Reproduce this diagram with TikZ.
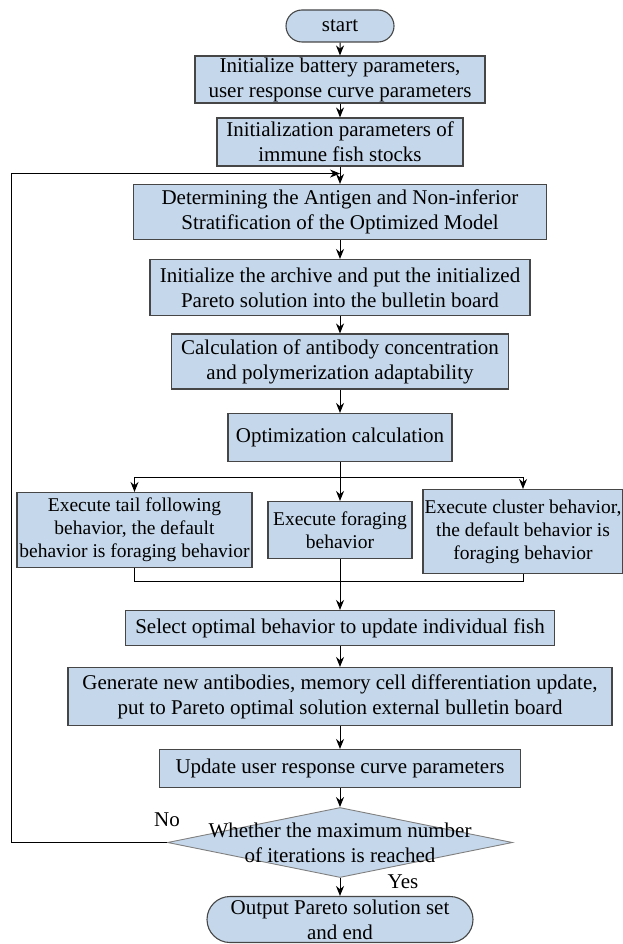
\documentclass[tikz,border=0pt]{standalone}
\usepackage{fontspec}
\setmainfont{Liberation Serif}
\usetikzlibrary{shapes.geometric, shapes.misc, arrows.meta}
\definecolor{boxblue}{RGB}{197,215,234}
\definecolor{edgegray}{RGB}{70,70,70}
\tikzstyle{startstop} = [rounded rectangle, inner sep=0pt, align=center, draw=edgegray, line width=1.1pt, fill=boxblue]
\tikzstyle{process} = [rectangle, inner sep=0pt, align=center, draw=edgegray, line width=1.1pt, fill=boxblue]
\tikzstyle{sidebox} = [process, font=\fontsize{19.5}{23}\selectfont]
\tikzstyle{decision} = [diamond, inner sep=0pt, draw=gray, line width=0.9pt, fill=boxblue]
\tikzstyle{arrow} = [line width=1pt, -{Stealth[length=10pt,width=8pt]}]
\tikzstyle{line} = [line width=1pt]

\begin{document}
\begin{tikzpicture}[node distance=70pt, font=\fontsize{21}{25}\selectfont]
\useasboundingbox (0,0) rectangle (623pt,-944pt);

% Nodes
\node (start) [startstop, minimum width=108pt, minimum height=32pt] at (340pt,-26pt) {start};
\node (battery) [process, minimum width=290pt, minimum height=47pt, below of=start, yshift=16.5pt] {Initialize battery parameters,\\ user response curve parameters};
\node (fishinit) [process, minimum width=246pt, minimum height=48pt, below of=battery, yshift=7.5pt] {Initialization parameters of\\ immune fish stocks};
\node (antigen) [process, minimum width=413pt, minimum height=55pt, below of=fishinit] {Determining the Antigen and Non-inferior\\ Stratification of the Optimized Model};
\node (archive) [process, minimum width=380pt, minimum height=56pt, below of=antigen, yshift=-5.5pt] {Initialize the archive and put the initialized\\ Pareto solution into the bulletin board};
\node (antibody) [process, minimum width=337pt, minimum height=55pt, below of=archive, yshift=-4pt] {Calculation of antibody concentration\\ and polymerization adaptability};
\node (optim) [process, minimum width=224pt, minimum height=48pt, below of=antibody, yshift=-6pt] {Optimization calculation};
\node (forage) [sidebox, minimum width=144pt, minimum height=57pt, below of=optim, yshift=-22.5pt] {Execute foraging\\ behavior};
\node (tail) [sidebox, minimum width=235pt, minimum height=75pt, left of=forage, xshift=-135.5pt] {Execute tail following\\ behavior, the default\\ behavior is foraging behavior};
\node (cluster) [sidebox, minimum width=200pt, minimum height=84pt, right of=forage, xshift=113pt, yshift=-1.5pt] {Execute cluster behavior,\\ the default behavior is\\ foraging behavior};
\node (select) [process, minimum width=429pt, minimum height=35pt, below of=forage, yshift=-28pt] {Select optimal behavior to update individual fish};
\node (generate) [process, minimum width=544pt, minimum height=58pt, below of=select, yshift=1.5pt] {Generate new antibodies, memory cell differentiation update,\\ put to Pareto optimal solution external bulletin board};
\node (update) [process, minimum width=361pt, minimum height=38pt, below of=generate, yshift=-2pt] {Update user response curve parameters};
\node (check) [decision, minimum width=345pt, minimum height=70pt, below of=update, yshift=-4pt, label={[name=checktext, align=center]center:{Whether the maximum number\\ of iterations is reached}}] {};
\node (stop) [startstop, minimum width=266pt, minimum height=46pt, below of=check, yshift=-7pt] {Output Pareto solution set\\ and end};
\node (no) at ([yshift=23pt]check.west) {No};
\node (yes) at ([xshift=63pt, yshift=-4pt]check.south) {Yes};

% Helper points
\coordinate (join) at ([yshift=-7pt]fishinit.south);
\coordinate (split) at ([yshift=-15pt]optim.south);
\coordinate (merge) at ([yshift=-22pt]forage.south);

% Arrows
\draw [arrow] (start) -- (battery);
\draw [arrow] (battery) -- (fishinit);
\draw [arrow] (fishinit) -- (antigen);
\draw [arrow] (antigen) -- (archive);
\draw [arrow] (archive) -- (antibody);
\draw [arrow] (antibody) -- (optim);
\draw [arrow] (optim) -- (forage);
\draw [arrow] (split) -| (tail.north);
\draw [arrow] (split) -| (cluster.north);
\draw [line] (tail.south) |- (merge) -| (cluster.south);
\draw [arrow] (forage) -- (select);
\draw [arrow] (select) -- (generate);
\draw [arrow] (generate) -- (update);
\draw [arrow] (update) -- (check);
\draw [arrow] (check) -- (stop);
\draw [arrow] (check.west) -- ++(-155.5pt,0) |- (join);

\end{tikzpicture}
\end{document}
